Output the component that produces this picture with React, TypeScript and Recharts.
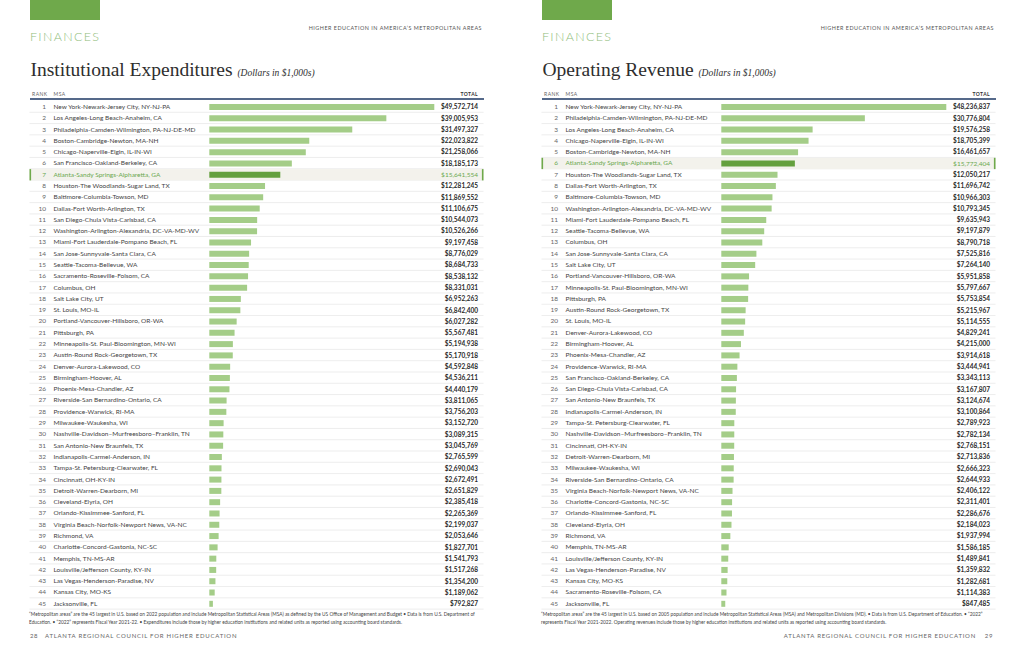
import React from "react";
import { Bar, BarChart, CartesianGrid, Cell, LabelList, XAxis, YAxis } from "recharts";

// Institutional Expenditures (left page), ranked
const expMsa = [
  "New York-Newark-Jersey City, NY-NJ-PA",
  "Los Angeles-Long Beach-Anaheim, CA",
  "Philadelphia-Camden-Wilmington, PA-NJ-DE-MD",
  "Boston-Cambridge-Newton, MA-NH",
  "Chicago-Naperville-Elgin, IL-IN-WI",
  "San Francisco-Oakland-Berkeley, CA",
  "Atlanta-Sandy Springs-Alpharetta, GA",
  "Houston-The Woodlands-Sugar Land, TX",
  "Baltimore-Columbia-Towson, MD",
  "Dallas-Fort Worth-Arlington, TX",
  "San Diego-Chula Vista-Carlsbad, CA",
  "Washington-Arlington-Alexandria, DC-VA-MD-WV",
  "Miami-Fort Lauderdale-Pompano Beach, FL",
  "San Jose-Sunnyvale-Santa Clara, CA",
  "Seattle-Tacoma-Bellevue, WA",
  "Sacramento-Roseville-Folsom, CA",
  "Columbus, OH",
  "Salt Lake City, UT",
  "St. Louis, MO-IL",
  "Portland-Vancouver-Hillsboro, OR-WA",
  "Pittsburgh, PA",
  "Minneapolis-St. Paul-Bloomington, MN-WI",
  "Austin-Round Rock-Georgetown, TX",
  "Denver-Aurora-Lakewood, CO",
  "Birmingham-Hoover, AL",
  "Phoenix-Mesa-Chandler, AZ",
  "Riverside-San Bernardino-Ontario, CA",
  "Providence-Warwick, RI-MA",
  "Milwaukee-Waukesha, WI",
  "Nashville-Davidson–Murfreesboro–Franklin, TN",
  "San Antonio-New Braunfels, TX",
  "Indianapolis-Carmel-Anderson, IN",
  "Tampa-St. Petersburg-Clearwater, FL",
  "Cincinnati, OH-KY-IN",
  "Detroit-Warren-Dearborn, MI",
  "Cleveland-Elyria, OH",
  "Orlando-Kissimmee-Sanford, FL",
  "Virginia Beach-Norfolk-Newport News, VA-NC",
  "Richmond, VA",
  "Charlotte-Concord-Gastonia, NC-SC",
  "Memphis, TN-MS-AR",
  "Louisville/Jefferson County, KY-IN",
  "Las Vegas-Henderson-Paradise, NV",
  "Kansas City, MO-KS",
  "Jacksonville, FL",
];
const expTotal = [
  49572714, 39005953, 31497327, 22023822, 21258066, 18185173, 15641554, 12281245, 11869552,
  11106675, 10544073, 10526266, 9197458, 8776029, 8684733, 8538132, 8331031, 6952263, 6842400,
  6027282, 5567481, 5194938, 5170918, 4592848, 4536211, 4440179, 3811065, 3756203, 3152720,
  3089315, 3045769, 2765599, 2690043, 2672491, 2651829, 2385418, 2265369, 2199037, 2053646,
  1827701, 1541793, 1517268, 1354200, 1189062, 792827,
];

// Operating Revenue (right page), ranked
const revMsa = [
  "New York-Newark-Jersey City, NY-NJ-PA",
  "Philadelphia-Camden-Wilmington, PA-NJ-DE-MD",
  "Los Angeles-Long Beach-Anaheim, CA",
  "Chicago-Naperville-Elgin, IL-IN-WI",
  "Boston-Cambridge-Newton, MA-NH",
  "Atlanta-Sandy Springs-Alpharetta, GA",
  "Houston-The Woodlands-Sugar Land, TX",
  "Dallas-Fort Worth-Arlington, TX",
  "Baltimore-Columbia-Towson, MD",
  "Washington-Arlington-Alexandria, DC-VA-MD-WV",
  "Miami-Fort Lauderdale-Pompano Beach, FL",
  "Seattle-Tacoma-Bellevue, WA",
  "Columbus, OH",
  "San Jose-Sunnyvale-Santa Clara, CA",
  "Salt Lake City, UT",
  "Portland-Vancouver-Hillsboro, OR-WA",
  "Minneapolis-St. Paul-Bloomington, MN-WI",
  "Pittsburgh, PA",
  "Austin-Round Rock-Georgetown, TX",
  "St. Louis, MO-IL",
  "Denver-Aurora-Lakewood, CO",
  "Birmingham-Hoover, AL",
  "Phoenix-Mesa-Chandler, AZ",
  "Providence-Warwick, RI-MA",
  "San Francisco-Oakland-Berkeley, CA",
  "San Diego-Chula Vista-Carlsbad, CA",
  "San Antonio-New Braunfels, TX",
  "Indianapolis-Carmel-Anderson, IN",
  "Tampa-St. Petersburg-Clearwater, FL",
  "Nashville-Davidson–Murfreesboro–Franklin, TN",
  "Cincinnati, OH-KY-IN",
  "Detroit-Warren-Dearborn, MI",
  "Milwaukee-Waukesha, WI",
  "Riverside-San Bernardino-Ontario, CA",
  "Virginia Beach-Norfolk-Newport News, VA-NC",
  "Charlotte-Concord-Gastonia, NC-SC",
  "Orlando-Kissimmee-Sanford, FL",
  "Cleveland-Elyria, OH",
  "Richmond, VA",
  "Memphis, TN-MS-AR",
  "Louisville/Jefferson County, KY-IN",
  "Las Vegas-Henderson-Paradise, NV",
  "Kansas City, MO-KS",
  "Sacramento-Roseville-Folsom, CA",
  "Jacksonville, FL",
];
const revTotal = [
  48236837, 30776804, 19576258, 18705399, 16461657, 15772404, 12050217, 11696742, 10966303,
  10793345, 9635943, 9197879, 8790718, 7525816, 7264140, 5951858, 5797667, 5753854, 5215967,
  5114555, 4829241, 4215000, 3914618, 3444941, 3343113, 3167807, 3124674, 3100864, 2789923,
  2782134, 2768151, 2713836, 2666323, 2644933, 2406122, 2311401, 2286676, 2184023, 1937994,
  1586185, 1489841, 1359832, 1282681, 1114383, 847485,
];

const HIGHLIGHT = "Atlanta-Sandy Springs-Alpharetta, GA";

const expNotes = [
  "“Metropolitan areas” are the 45 largest in U.S. based on 2022 population and include Metropolitan Statistical Areas (MSA) as defined by the US Office of Management and Budget • Data is from U.S. Department of",
  "Education. • “2022” represents Fiscal Year 2021-22.  • Expenditures include those by higher education institutions and related units as reported using accounting board standards.",
];
const revNotes = [
  "“Metropolitan areas” are the 45 largest in U.S. based on 2005 population and include Metropolitan Statistical Areas (MSA) and Metropolitan Divisions (MD). • Data is from U.S. Department of Education. • “2022”",
  "represents Fiscal Year 2021-2022.  Operating revenues include those by higher education institutions and related units as reported using accounting board standards.",
];

const GREEN = "#6fa94b";
const BAR = "#a4cd88";
const BAR_HI = "#64a03e";
const TEXT_HI = "#6aa84f";
const BG_HI = "#f3f2ec";
const FONT = "Lato, 'Open Sans', sans-serif";

const PAGE_W = 512;
const PAGE_H = 663;
const ROW_TOP = 101;
const ROW_BOTTOM = 609.1;
const ROW_LEFT = 29.5;
const ROW_RIGHT = 483.5;
const BAR_LEFT = 209.3;
const BAR_RIGHT = 434.3;
const VALUE_X = 478;

const fmt = (v: number) => "$" + v.toLocaleString("en-US");

interface PageProps {
  left: number;
  title: string;
  names: string[];
  values: number[];
  notes: string[];
  pageNo: string;
  side: "left" | "right";
}

function Page({ left, title, names, values, notes, pageNo, side }: PageProps) {
  const rows = names.map((msa, i) => ({ msa, rank: i + 1, total: values[i] }));
  const band = (ROW_BOTTOM - ROW_TOP) / rows.length;

  const RowTick = (props: any) => {
    const { y, payload } = props;
    const i = names.indexOf(payload.value);
    const hi = payload.value === HIGHLIGHT;
    return (
      <g>
        <text x={46} y={y} dy="0.35em" textAnchor="end" fontSize={6.5} fontFamily={FONT} fill={hi ? TEXT_HI : "#666"}>
          {i + 1}
        </text>
        <text x={53.5} y={y} dy="0.35em" fontSize={6.5} fontFamily={FONT} fill={hi ? TEXT_HI : "#444"}>
          {payload.value}
        </text>
      </g>
    );
  };

  const RowBackground = (props: any) => {
    const { y, height, payload } = props;
    if (!payload || payload.msa !== HIGHLIGHT) return <g />;
    const top = y + height / 2 - band / 2;
    return (
      <g>
        <rect x={ROW_LEFT} y={top} width={ROW_RIGHT - ROW_LEFT} height={band} fill={BG_HI} />
        <rect x={ROW_LEFT} y={top} width={1.6} height={band} fill={GREEN} />
        <rect x={ROW_RIGHT - 1.6} y={top} width={1.6} height={band} fill={GREEN} />
      </g>
    );
  };

  const ValueLabel = (props: any) => {
    const { y, height, value, index } = props;
    const hi = rows[index]?.msa === HIGHLIGHT;
    return (
      <text
        x={VALUE_X}
        y={y + height / 2}
        dy="0.35em"
        textAnchor="end"
        fontSize={6.5}
        fontFamily={FONT}
        fontWeight={hi ? 400 : 700}
        fill={hi ? TEXT_HI : "#2a2a2a"}
      >
        {fmt(value)}
      </text>
    );
  };

  const small: React.CSSProperties = {
    position: "absolute",
    fontFamily: FONT,
    whiteSpace: "nowrap",
  };

  return (
    <div style={{ position: "absolute", left, top: 0, width: PAGE_W, height: PAGE_H, background: "#fff" }}>
      <div style={{ position: "absolute", left: 30, top: 0, width: 70, height: 20, background: GREEN }} />
      <div style={{ ...small, left: 30, top: 31, fontSize: 12.5, lineHeight: "12.5px", letterSpacing: 1.3, color: "#8fbd7b", fontWeight: 300 }}>
        FINANCES
      </div>
      <div style={{ ...small, right: 30, top: 25, fontSize: 5.4, lineHeight: "6px", letterSpacing: 0.5, color: "#555" }}>
        HIGHER EDUCATION IN AMERICA’S METROPOLITAN AREAS
      </div>
      <div style={{ ...small, left: 30.5, top: 60, fontFamily: "'Liberation Serif', serif", fontSize: 19.5, lineHeight: "19.5px", color: "#2e2e2e" }}>
        {title}{" "}
        <span style={{ fontStyle: "italic", fontSize: 9.5 }}>(Dollars in $1,000s)</span>
      </div>
      <div style={{ ...small, left: 32, top: 91.5, fontSize: 5, lineHeight: "5px", letterSpacing: 0.5, color: "#666" }}>RANK</div>
      <div style={{ ...small, left: 53.5, top: 91.5, fontSize: 5, lineHeight: "5px", letterSpacing: 0.5, color: "#666" }}>MSA</div>
      <div style={{ ...small, right: 34, top: 91.5, fontSize: 5, lineHeight: "5px", letterSpacing: 0.4, color: "#333", fontWeight: 700 }}>TOTAL</div>
      <div style={{ position: "absolute", left: ROW_LEFT, top: 98.2, width: ROW_RIGHT - ROW_LEFT, height: 1.4, background: "#55698a" }} />

      <div style={{ position: "absolute", left: 0, top: 0 }}>
        <BarChart
          width={PAGE_W}
          height={PAGE_H}
          data={rows}
          layout="vertical"
          margin={{ top: ROW_TOP, bottom: PAGE_H - ROW_BOTTOM, left: 29.3, right: PAGE_W - BAR_RIGHT }}
        >
          <CartesianGrid
            vertical={false}
            x={ROW_LEFT}
            width={ROW_RIGHT - ROW_LEFT}
            stroke="#e8e8e8"
            strokeWidth={0.8}
            horizontalCoordinatesGenerator={({ offset }: any) =>
              rows.map((_, k) => offset.top + ((k + 1) * offset.height) / rows.length)
            }
          />
          <XAxis type="number" hide domain={[0, "dataMax"]} />
          <YAxis
            type="category"
            dataKey="msa"
            width={BAR_LEFT - 29.3}
            interval={0}
            tickLine={false}
            axisLine={false}
            tick={<RowTick />}
          />
          <Bar dataKey="total" barSize={6} isAnimationActive={false} background={RowBackground}>
            {rows.map((r) => (
              <Cell key={r.msa} fill={r.msa === HIGHLIGHT ? BAR_HI : BAR} />
            ))}
            <LabelList dataKey="total" content={ValueLabel} />
          </Bar>
        </BarChart>
      </div>

      <div style={{ ...small, left: 29, top: 612, fontSize: 4.8, lineHeight: "5px", color: "#444" }}>{notes[0]}</div>
      <div style={{ ...small, left: 29, top: 619.5, fontSize: 4.8, lineHeight: "5px", color: "#444" }}>{notes[1]}</div>

      {side === "left" ? (
        <>
          <div style={{ ...small, left: 30, top: 633, fontSize: 6, lineHeight: "6px", letterSpacing: 0.6, color: "#666" }}>{pageNo}</div>
          <div style={{ ...small, left: 45, top: 633, fontSize: 6, lineHeight: "6px", letterSpacing: 0.75, color: "#666" }}>
            ATLANTA REGIONAL COUNCIL FOR HIGHER EDUCATION
          </div>
        </>
      ) : (
        <>
          <div style={{ ...small, right: 48, top: 633, fontSize: 6, lineHeight: "6px", letterSpacing: 0.75, color: "#666" }}>
            ATLANTA REGIONAL COUNCIL FOR HIGHER EDUCATION
          </div>
          <div style={{ ...small, right: 31, top: 633, fontSize: 6, lineHeight: "6px", letterSpacing: 0.6, color: "#666" }}>{pageNo}</div>
        </>
      )}
    </div>
  );
}

export default function App() {
  return (
    <div style={{ position: "absolute", left: 0, top: 0, width: 1024, height: PAGE_H, background: "#fff", overflow: "hidden" }}>
      <Page left={0} side="left" title="Institutional Expenditures" names={expMsa} values={expTotal} notes={expNotes} pageNo="28" />
      <Page left={512} side="right" title="Operating Revenue" names={revMsa} values={revTotal} notes={revNotes} pageNo="29" />
    </div>
  );
}
